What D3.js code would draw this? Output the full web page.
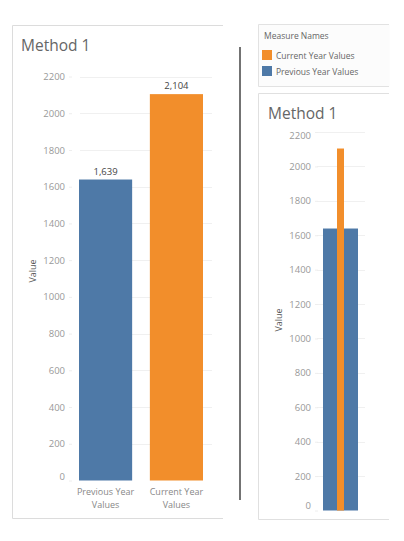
<!DOCTYPE html>
<html><head><meta charset="utf-8">
<script src="https://cdn.jsdelivr.net/npm/d3@7"></script>
<style>
html,body{margin:0;padding:0;background:#fff;}
svg{display:block;font-family:"Open Sans","Noto Sans",sans-serif;}
</style></head>
<body>
<svg id="c" width="404" height="541"></svg>
<script>
const categories = ["Previous Year Values", "Current Year Values"];
const categoryLines = [["Previous Year", "Values"], ["Current Year", "Values"]];
const values = [1639, 2104];
const seriesColors = ["#4e79a7", "#f28e2b"];
const legendItems = ["Current Year Values", "Previous Year Values"];
const legendColors = ["#f28e2b", "#4e79a7"];
const yTicks = [0, 200, 400, 600, 800, 1000, 1200, 1400, 1600, 1800, 2000, 2200];
const title = "Method 1";

const svg = d3.select("#c");
const fmt = d3.format(",");

// ---------- Left panel ----------
svg.append("path").attr("d", "M223,25.5 H12.5 V518.5 H223")
  .attr("fill", "none").attr("stroke", "#dcdcdc").attr("stroke-width", 1);
svg.append("text").attr("x", 21).attr("y", 51).text(title)
  .attr("font-size", 15.5).attr("fill", "#666");

const yL = d3.scaleLinear().domain([0, 2200]).range([480.5, 76.5]);
const xL = d3.scaleBand().domain(categories).range([79, 203]).paddingInner(0.25).paddingOuter(0);

const gL = svg.append("g");
gL.selectAll("line.grid").data(yTicks.slice(1)).join("line")
  .attr("x1", 80).attr("x2", 212).attr("y1", d => Math.round(yL(d)) + 0.5).attr("y2", d => Math.round(yL(d)) + 0.5)
  .attr("stroke", "#f0f0f0");
const axL = gL.append("g").attr("transform", "translate(72,0)")
  .call(d3.axisLeft(yL).tickValues(yTicks).tickSize(3).tickPadding(4).tickFormat(d => d));
axL.select(".domain").remove();
axL.selectAll("line").attr("stroke", "#eee");
axL.selectAll("text").attr("font-size", 9.5).attr("fill", "#999").attr("font-family", "Open Sans, sans-serif");
axL.selectAll(".tick").filter(d => d === 0).select("text").attr("dy", "-0.1em");

gL.selectAll("rect.bar").data(values).join("rect")
  .attr("x", (d, i) => xL(categories[i])).attr("width", xL.bandwidth())
  .attr("y", d => yL(d)).attr("height", d => yL(0) - yL(d))
  .attr("fill", (d, i) => seriesColors[i]);
gL.selectAll("text.val").data(values).join("text")
  .attr("x", (d, i) => xL(categories[i]) + xL.bandwidth() / 2).attr("y", d => yL(d) - 5)
  .attr("text-anchor", "middle").attr("font-size", 9.5).attr("fill", "#444").text(d => fmt(d));
categoryLines.forEach((lines, i) => {
  lines.forEach((ln, j) => {
    gL.append("text").attr("x", xL(categories[i]) + xL.bandwidth() / 2).attr("y", 495 + j * 13)
      .attr("text-anchor", "middle").attr("font-size", 9).attr("fill", "#888").text(ln);
  });
});
svg.append("text").attr("transform", "translate(36,271) rotate(-90)")
  .attr("text-anchor", "middle").attr("font-size", 9).attr("fill", "#555").text("Value");

// ---------- Separator ----------
svg.append("line").attr("x1", 240).attr("x2", 240).attr("y1", 47).attr("y2", 500)
  .attr("stroke", "#444").attr("stroke-width", 1.5);

// ---------- Legend ----------
svg.append("rect").attr("x", 258.5).attr("y", 24.5).attr("width", 131).attr("height", 62)
  .attr("fill", "#fcfcfc");
svg.append("path").attr("d", "M389,24.5 H258.5 V86.5 H389")
  .attr("fill", "none").attr("stroke", "#e2e2e2");
svg.append("text").attr("x", 264).attr("y", 39).attr("font-size", 8.5).attr("fill", "#666").text("Measure Names");
legendItems.forEach((name, i) => {
  svg.append("rect").attr("x", 262).attr("y", 50 + i * 16).attr("width", 10).attr("height", 10).attr("fill", legendColors[i]);
  svg.append("text").attr("x", 276).attr("y", 58.5 + i * 16).attr("font-size", 8.5).attr("fill", "#666").text(name);
});

// ---------- Right panel ----------
svg.append("path").attr("d", "M389,93.5 H258.5 V519.5 H389")
  .attr("fill", "none").attr("stroke", "#e0e0e0");
svg.append("text").attr("x", 268).attr("y", 119).text(title).attr("font-size", 15.5).attr("fill", "#666");

const yR = d3.scaleLinear().domain([0, 2200]).range([510.5, 132]);
const gR = svg.append("g");
gR.selectAll("line.grid").data(yTicks.slice(1)).join("line")
  .attr("x1", 317).attr("x2", 365).attr("y1", d => Math.round(yR(d)) + 0.5).attr("y2", d => Math.round(yR(d)) + 0.5)
  .attr("stroke", "#f0f0f0");
const axR = gR.append("g").attr("transform", "translate(318,0)")
  .call(d3.axisLeft(yR).tickValues(yTicks).tickSize(3).tickPadding(4).tickFormat(d => d));
axR.select(".domain").remove();
axR.selectAll("line").attr("stroke", "#eee");
axR.selectAll("text").attr("font-size", 9.5).attr("fill", "#999").attr("font-family", "Open Sans, sans-serif");
axR.selectAll(".tick").filter(d => d === 0).select("text").attr("dy", "-0.2em");
axR.selectAll(".tick").filter(d => d === 2200).select("text").attr("dy", "0.7em");

// overlapping bars: wide = previous (index 0), narrow = current (index 1)
const barW = [35, 7];
const cx = 340.5;
gR.selectAll("rect.bar").data(values).join("rect")
  .attr("x", (d, i) => cx - barW[i] / 2).attr("width", (d, i) => barW[i])
  .attr("y", d => yR(d)).attr("height", d => yR(0) - yR(d))
  .attr("fill", (d, i) => seriesColors[i]);
svg.append("text").attr("transform", "translate(282,320) rotate(-90)")
  .attr("text-anchor", "middle").attr("font-size", 9).attr("fill", "#555").text("Value");
</script>
</body></html>
